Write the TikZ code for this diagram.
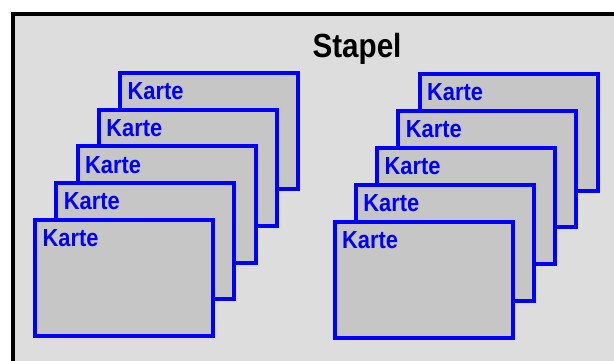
\documentclass[tikz,border=0pt]{standalone}
\usepackage{fontspec}
\setmainfont{Liberation Sans}
\newfontfamily\labelfont[FakeStretch=0.885]{Liberation Sans}
\definecolor{cardblue}{RGB}{0,0,255}
\definecolor{cardgray}{RGB}{198,198,198}
\definecolor{panelgray}{RGB}{221,221,221}
\begin{document}
\begin{tikzpicture}[x=1pt,y=-1pt,
  panel/.style={draw=black, line width=4pt, fill=panelgray},
  card/.style={draw=cardblue, line width=4pt, fill=cardgray,
    minimum width=178pt, minimum height=116pt, anchor=north west,
    outer sep=0pt, inner sep=0pt},
  cardtext/.style={text=cardblue, anchor=base west, inner sep=0pt,
    font=\labelfont\bfseries\fontsize{24.7}{28}\selectfont},
  title/.style={text=black, anchor=base, inner sep=0pt,
    font=\labelfont\bfseries\fontsize{33.5}{38}\selectfont}]
\useasboundingbox (0,0) rectangle (614,361);
\clip (0,0) rectangle (614,361);
% the stack panel (runs off the right and bottom edges)
\path[panel] (13,14) rectangle (640,390);
\node[title] (stapel) at (357,57.5) {Stapel};
% left stack of cards, back to front
\foreach \i in {0,...,4} {
  \pgfmathsetmacro{\cx}{120 - 21.25*\i}
  \pgfmathsetmacro{\cy}{73 + 36.75*\i}
  \node[card] (L\i) at (\cx,\cy) {};
  \node[cardtext] (LT\i) at ([xshift=7.5pt,yshift=-26.5pt]L\i.north west) {Karte};
}
% right stack of cards, back to front
\foreach \i in {0,...,4} {
  \pgfmathsetmacro{\cx}{419.5 - 21.25*\i}
  \pgfmathsetmacro{\cy}{74.5 + 36.75*\i}
  \node[card] (R\i) at (\cx,\cy) {};
  \node[cardtext] (RT\i) at ([xshift=7.5pt,yshift=-26.5pt]R\i.north west) {Karte};
}
\end{tikzpicture}
\end{document}
